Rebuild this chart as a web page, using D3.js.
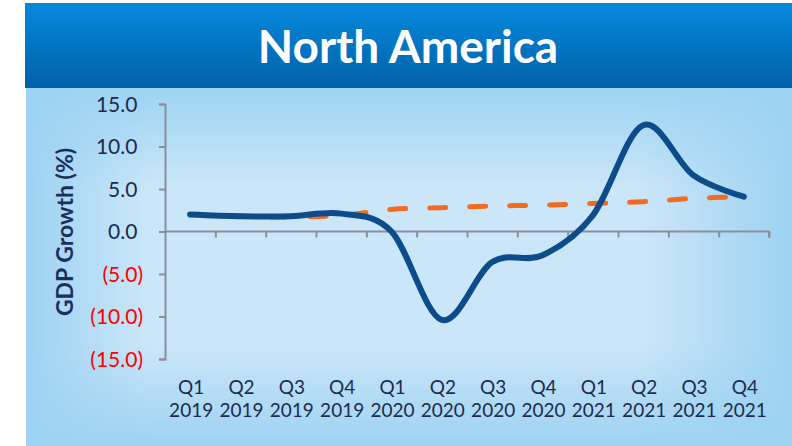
<!DOCTYPE html>
<html>
<head>
<meta charset="utf-8">
<script src="https://cdn.jsdelivr.net/npm/d3@7"></script>
<style>
  html, body { margin: 0; padding: 0; background: #ffffff; }
  svg { display: block; }
</style>
</head>
<body>
<svg id="chart" width="792" height="446"></svg>
<script>
// ---- data ----
const quarters = ["Q1","Q2","Q3","Q4","Q1","Q2","Q3","Q4","Q1","Q2","Q3","Q4"];
const years    = ["2019","2019","2019","2019","2020","2020","2020","2020","2021","2021","2021","2021"];
const gdpGrowth = [2.0, 1.8, 1.8, 2.1, 0.0, -10.4, -3.6, -2.8, 1.9, 12.5, 6.6, 4.1];
const trendGrowth = [2.0, 1.8, 1.7, 1.9, 2.6, 2.8, 3.0, 3.1, 3.3, 3.5, 3.9, 4.1];
const yTicks = [15, 10, 5, 0, -5, -10, -15];
const titleText = "North America";
const yAxisTitle = "GDP Growth (%)";

// ---- layout ----
const W = 792, H = 446;
const plotLeft = 165, plotRight = 769, yTop = 104, yBottom = 359;
const svg = d3.select("#chart");
const defs = svg.append("defs");

// header gradient
const hg = defs.append("linearGradient").attr("id","hdr").attr("x1",0).attr("y1",0).attr("x2",0).attr("y2",1);
hg.append("stop").attr("offset","0%").attr("stop-color","#0789de");
hg.append("stop").attr("offset","100%").attr("stop-color","#0061a7");

// background gradients
const vg = defs.append("linearGradient").attr("id","bgv").attr("x1",0).attr("y1",0).attr("x2",0).attr("y2",1);
vg.append("stop").attr("offset","0%").attr("stop-color","#9dd3f3");
vg.append("stop").attr("offset","28%").attr("stop-color","#cbe6f8");
vg.append("stop").attr("offset","72%").attr("stop-color","#cbe6f8");
vg.append("stop").attr("offset","100%").attr("stop-color","#9dd2f2");
const hgr = defs.append("linearGradient").attr("id","bgh").attr("x1",0).attr("y1",0).attr("x2",1).attr("y2",0);
hgr.append("stop").attr("offset","0%").attr("stop-color","#9dd2f2").attr("stop-opacity",1);
hgr.append("stop").attr("offset","16%").attr("stop-color","#9dd2f2").attr("stop-opacity",0);
hgr.append("stop").attr("offset","80%").attr("stop-color","#9dd2f2").attr("stop-opacity",0);
hgr.append("stop").attr("offset","100%").attr("stop-color","#9dd2f2").attr("stop-opacity",1);

// background panel
svg.append("rect").attr("x",26).attr("y",88).attr("width",W-26).attr("height",H-88).attr("fill","url(#bgv)");
svg.append("rect").attr("x",26).attr("y",88).attr("width",W-26).attr("height",H-88).attr("fill","url(#bgh)");

// header
svg.append("rect").attr("x",25).attr("y",3).attr("width",W-25).attr("height",85).attr("fill","url(#hdr)");
svg.append("text").attr("x",408).attr("y",63).attr("text-anchor","middle")
  .attr("font-family","Lato, 'Open Sans', sans-serif").attr("font-weight","bold")
  .attr("font-size",46).attr("fill","#ffffff").text(titleText);

// ---- scales ----
const x = d3.scaleBand().domain(d3.range(quarters.length)).range([plotLeft, plotRight]).padding(0);
const y = d3.scaleLinear().domain([-15, 15]).range([yBottom, yTop]);
const cx = i => x(i) + x.bandwidth() / 2;

const axisColor = "#8c8e9b";

// y axis
const yAxis = d3.axisLeft(y).tickValues(yTicks).tickSize(6).tickFormat("");
const gy = svg.append("g").attr("transform", `translate(${plotLeft},0)`).call(yAxis);
gy.select(".domain").attr("stroke", axisColor).attr("stroke-width", 2);
gy.selectAll(".tick line").attr("stroke", axisColor).attr("stroke-width", 2);

// y tick labels (Excel style: 0.0_);(0.0))
const fmt = d3.format(".1f");
const yl = svg.append("g");
yTicks.forEach(v => {
  const t = yl.append("text").attr("x", 143).attr("y", y(v)).attr("dy","0.36em")
    .attr("text-anchor","end").attr("font-family","Lato, 'Open Sans', sans-serif")
    .attr("font-size",21).attr("fill", v < 0 ? "#ff0000" : "#1c2b4e");
  if (v < 0) {
    t.text("(" + fmt(-v) + ")");
  } else {
    t.append("tspan").text(fmt(v));
    t.append("tspan").attr("fill-opacity",0).text(")");
  }
});

// x axis at zero
const xAxis = d3.axisBottom(d3.scaleLinear().domain([0, quarters.length]).range([plotLeft, plotRight]))
  .tickValues(d3.range(1, quarters.length + 1)).tickSize(6).tickFormat("");
const gx = svg.append("g").attr("transform", `translate(0,${y(0)})`).call(xAxis);
gx.select(".domain").attr("stroke", axisColor).attr("stroke-width", 2).attr("d", `M${plotLeft},0H${plotRight}V6`);
gx.selectAll(".tick line").attr("stroke", axisColor).attr("stroke-width", 2);

// x labels
const xl = svg.append("g").attr("font-family","Lato, 'Open Sans', sans-serif").attr("font-size",19).attr("fill","#1c2b4e");
quarters.forEach((q, i) => {
  xl.append("text").attr("x", cx(i) + 1).attr("y", 394).attr("text-anchor","middle").text(q);
  xl.append("text").attr("x", cx(i) + 1).attr("y", 417).attr("text-anchor","middle").text(years[i]);
});

// y axis title
svg.append("text").attr("transform", `translate(73,232) rotate(-90)`).attr("text-anchor","middle")
  .attr("font-family","Lato, 'Open Sans', sans-serif").attr("font-weight","bold").attr("font-size",23)
  .attr("fill","#1c2f5c").text(yAxisTitle);

// ---- lines ----
const line = d3.line().x((d, i) => cx(i)).y(d => y(d)).curve(d3.curveCardinal.tension(0));

svg.append("path").datum(trendGrowth).attr("d", line).attr("fill","none")
  .attr("stroke","#f36b21").attr("stroke-width",5).attr("stroke-linecap","round")
  .attr("stroke-dasharray","16,24");

svg.append("path").datum(gdpGrowth).attr("d", line).attr("fill","none")
  .attr("stroke","#0d4c8b").attr("stroke-width",6).attr("stroke-linecap","round")
  .attr("stroke-linejoin","round");
</script>
</body>
</html>
